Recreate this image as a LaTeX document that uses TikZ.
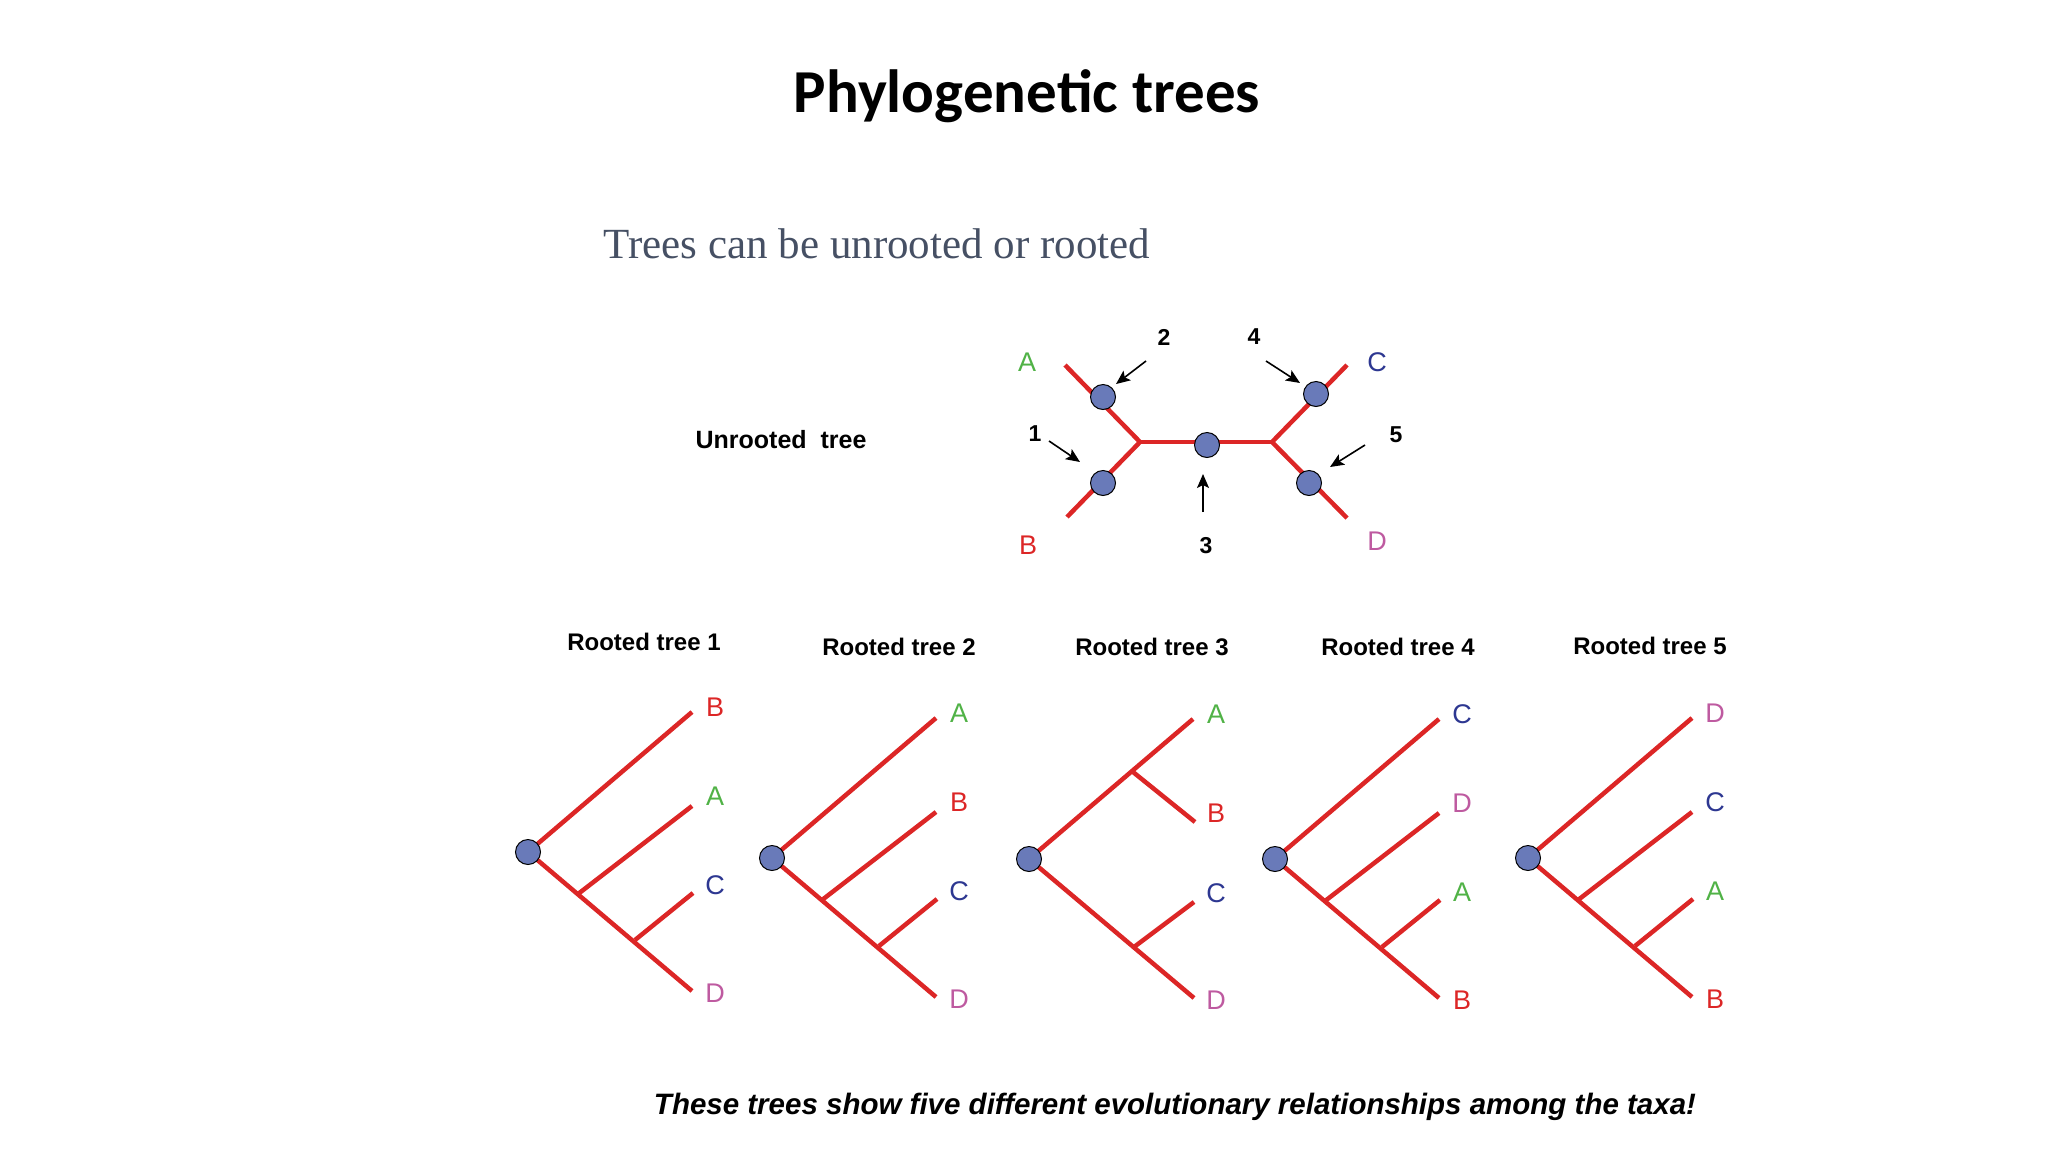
\documentclass[tikz,border=0pt]{standalone}
\usepackage{fontspec}
\usetikzlibrary{arrows.meta}
\setmainfont{Liberation Sans}
\newfontfamily\carl{Carlito}
\newfontfamily\lserif{Liberation Serif}
\begin{document}
\definecolor{br}{RGB}{220,38,38}
\definecolor{nb}{RGB}{105,122,185}
\definecolor{tg}{RGB}{80,178,70}
\definecolor{tc}{RGB}{45,55,145}
\definecolor{td}{RGB}{190,90,160}
\definecolor{sub}{RGB}{70,80,100}
\begin{tikzpicture}[x=1pt,y=-1pt,
  br/.style={draw=br,line width=4.5pt},
  dot/.style={circle,draw=black,line width=1pt,fill=nb,minimum size=25pt,inner sep=0pt},
  lab/.style={font=\fontsize{27}{27}\selectfont},
  num/.style={font=\bfseries\fontsize{23}{23}\selectfont},
  ttl/.style={font=\bfseries\fontsize{24}{24}\selectfont},
  arr/.style={-{Stealth[length=14pt,width=12pt,inset=3pt]},line width=1.6pt}]
\useasboundingbox (0,0) rectangle (2048,1152);
\node[font=\carl\bfseries\fontsize{61}{61}\selectfont] (title) at (1027,96) {Phylogene\kern0pt tic trees};
\node[font=\lserif\fontsize{43}{43}\selectfont,text=sub,anchor=west] (subt) at (600,244) {Trees can be unrooted or rooted};
\node[font=\bfseries\fontsize{25}{25}\selectfont] (ut) at (781,440) {Unrooted\ \ tree};
% unrooted tree
\coordinate (ea) at (1065,365); \coordinate (eb) at (1067,517);
\coordinate (ec) at (1347,365); \coordinate (ed) at (1347,518);
\coordinate (jl) at (1140,442); \coordinate (jr) at (1272,442);
\draw[br] (ea)--(jl)--(eb); \draw[br] (ec)--(jr)--(ed); \draw[br] (jl)--(jr);
\node[dot] (n2) at (1103,397) {};
\node[dot] (n1) at (1103,483) {};
\node[dot] (n3) at (1207,445) {};
\node[dot] (n4) at (1316,394) {};
\node[dot] (n5) at (1309,483) {};
\node[lab,text=tg] (la) at (1027,362) {A};
\node[lab,text=br] (lb) at (1028,545) {B};
\node[lab,text=tc] (lc) at (1377,362) {C};
\node[lab,text=td] (ld) at (1377,541) {D};
\node[num] (t2) at (1164,337) {2};
\node[num] (t4) at (1254,337) {4};
\node[num] (t1) at (1035,434) {1};
\node[num] (t5) at (1396,435) {5};
\node[num] (t3) at (1206,546) {3};
\coordinate (a2) at (1146,361); \coordinate (a4) at (1266,361);
\coordinate (a1) at (1049,441); \coordinate (a5) at (1365,445);
\coordinate (a3) at (1203,512);
\draw[arr] (a2) -- (1116,384);
\draw[arr] (a4) -- (1300,383);
\draw[arr] (a1) -- (1080,462);
\draw[arr] (a5) -- (1330,467);
\draw[arr] (a3) -- (1203,474);
% rooted trees
\newcommand\tlabels[9]{%
 \begin{scope}[shift={(#1,#2)}]
  \node[lab,text=#4] (l#3a) at (187,-145) {#5};
  \node[lab,text=#6] (l#3b) at (187,-56) {#7};
  \node[lab,text=#8] (l#3c) at (187,33) {#9};
 \end{scope}}
\newcommand\blabel[5]{%
 \node[lab,text=#4] (l#3d) at (#1+187,#2+141) {#5};}
\newcommand\stree[3]{%
 \begin{scope}[shift={(#1,#2)}]
  \coordinate (s#3j1) at (50,42); \coordinate (s#3j2) at (107,88);
  \draw[br] (0,0)--(164,-140); \draw[br] (0,0)--(164,139);
  \draw[br] (s#3j1)--(164,-46); \draw[br] (s#3j2)--(165,41);
  \node[dot] (s#3) at (0,0) {};
 \end{scope}}
\stree{528}{852}{1}
\tlabels{528}{852}{1}{br}{B}{tg}{A}{tc}{C}\blabel{528}{852}{1}{td}{D}
\stree{772}{858}{2}
\tlabels{772}{858}{2}{tg}{A}{br}{B}{tc}{C}\blabel{772}{858}{2}{td}{D}
\stree{1275}{859}{4}
\tlabels{1275}{859}{4}{tc}{C}{td}{D}{tg}{A}\blabel{1275}{859}{4}{br}{B}
\stree{1528}{858}{5}
\tlabels{1528}{858}{5}{td}{D}{tc}{C}{tg}{A}\blabel{1528}{858}{5}{br}{B}
% tree 3
\begin{scope}[shift={(1029,859)}]
  \coordinate (t3j1) at (104,-87); \coordinate (t3j2) at (105,88);
  \draw[br] (0,0)--(164,-140); \draw[br] (0,0)--(165,139);
  \draw[br] (t3j1)--(166,-37); \draw[br] (t3j2)--(165,43);
  \node[dot] (s3) at (0,0) {};
  \node[lab,text=tg] (l3a) at (187,-145) {A};
  \node[lab,text=br] (l3b) at (187,-46) {B};
  \node[lab,text=tc] (l3c) at (187,34) {C};
  \node[lab,text=td] (l3d) at (187,141) {D};
\end{scope}
\node[ttl] (rt1) at (644,642) {Rooted tree 1};
\node[ttl] (rt2) at (899,647) {Rooted tree 2};
\node[ttl] (rt3) at (1152,647) {Rooted tree 3};
\node[ttl] (rt4) at (1398,647) {Rooted tree 4};
\node[ttl] (rt5) at (1650,646) {Rooted tree 5};
\node[font=\bfseries\itshape\fontsize{29.5}{30}\selectfont] (bot) at (1175,1107) {These trees show five different evolutionary relationships among the taxa!};
\end{tikzpicture}
\end{document}
